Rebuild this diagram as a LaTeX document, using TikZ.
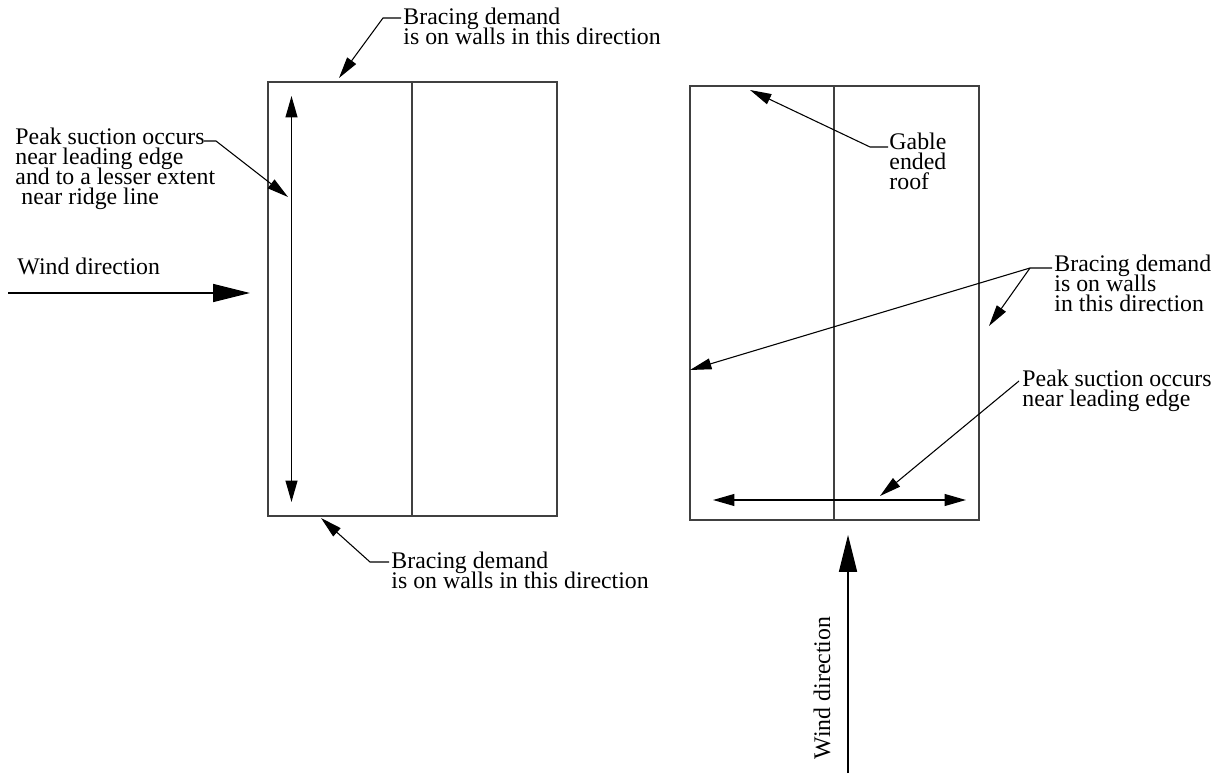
\documentclass[tikz,border=0pt]{standalone}
\usepackage{fontspec}
\setmainfont{Liberation Serif}
\usetikzlibrary{arrows.meta}
\lineskiplimit=-10pt

\begin{document}
\begin{tikzpicture}[x=0.42pt, y=-0.42pt,
    every node/.style={align=left, inner sep=0pt, anchor=north west,
        font=\fontsize{10pt}{8.4pt}\selectfont},
    lead/.style={-{Triangle[length=9pt, width=4.6pt]}, line width=0.45pt},
    both/.style={{Triangle[length=9pt, width=5pt]}-{Triangle[length=9pt, width=5pt]}, line width=0.55pt},
    wind/.style={-{Triangle[length=15.5pt, width=7.6pt]}, line width=0.5pt},
    wall/.style={draw=black!75, line width=0.6pt}]
    \useasboundingbox (0,0) rectangle (1221,774);
    % Left plan
    \draw[wall] (268,82) rectangle (557,516);
    \draw[wall] (412,82) -- (412,516);
    \coordinate (sucTop) at (291.5,96);
    \coordinate (sucBot) at (291.5,502);
    \draw[both] (sucTop) -- (sucBot);
    % Right plan
    \draw[wall] (690,86) rectangle (979,520);
    \draw[wall] (834,86) -- (834,520);
    \coordinate (sucLeft) at (713,500);
    \coordinate (sucRight) at (966,500);
    \draw[both] (sucLeft) -- (sucRight);
    % Wind arrows
    \node (windL) at (17,258) {Wind direction};
    \coordinate (windLs) at (8,293);
    \coordinate (windLe) at (250,293);
    \draw[wind] (windLs) -- (windLe);
    \node[rotate=90, anchor=center] (windR) at (822,688) {Wind direction};
    \coordinate (windRs) at (848,773);
    \coordinate (windRe) at (848,535);
    \draw[wind] (windRs) -- (windRe);
    % Labels on the left plan
    \node (brTop) at (403,8) {Bracing demand\\is on walls in this direction};
    \coordinate (brTopL) at (401,18);
    \coordinate (brTopTip) at (339,78);
    \draw[lead] (brTopL) -- ++(-18,0) -- (brTopTip);
    \node (peakL) at (15,128) {Peak suction occurs\\near leading edge\\and to a lesser extent\\\ near ridge line};
    \coordinate (peakLL) at (204,141);
    \coordinate (peakLTip) at (288,197);
    \draw[lead] (peakLL) -- ++(12,0) -- (peakLTip);
    \node (brBot) at (391,552) {Bracing demand\\is on walls in this direction};
    \coordinate (brBotL) at (389,562);
    \coordinate (brBotTip) at (321,518);
    \draw[lead] (brBotL) -- ++(-19,0) -- (brBotTip);
    % Labels on the right plan
    \node (gable) at (889,133) {Gable\\ended\\roof};
    \coordinate (gableL) at (888,147);
    \coordinate (gableTip) at (750,90);
    \draw[lead] (gableL) -- ++(-18,0) -- (gableTip);
    \node (brRight) at (1054,255) {Bracing demand\\is on walls\\in this direction};
    \coordinate (brRightL) at (1052,268);
    \coordinate (brRightK) at (1030,268);
    \coordinate (brRightTipA) at (690,370);
    \coordinate (brRightTipB) at (989,326);
    \draw[lead] (brRightL) -- (brRightK) -- (brRightTipA);
    \draw[lead] (brRightK) -- (brRightTipB);
    \node (peakR) at (1022,370) {Peak suction occurs\\near leading edge};
    \coordinate (peakRL) at (1019,381);
    \coordinate (peakRTip) at (880,496);
    \draw[lead] (peakRL) -- (peakRTip);
\end{tikzpicture}
\end{document}
